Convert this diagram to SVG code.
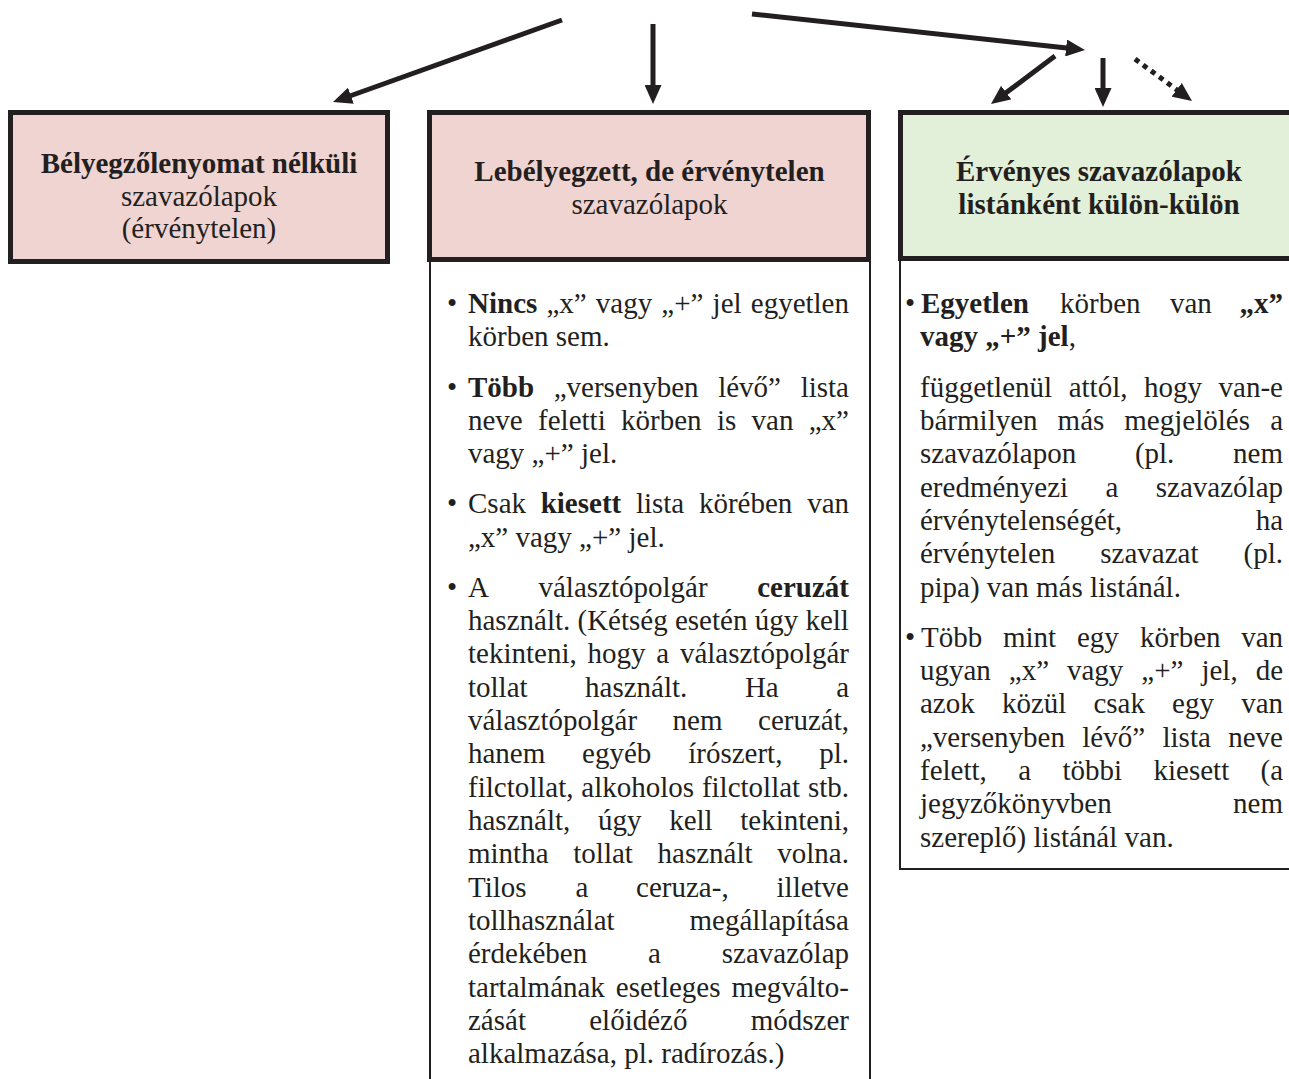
<svg xmlns="http://www.w3.org/2000/svg" width="1289" height="1079" viewBox="0 0 1289 1079">
<style>
.t{font-family:"Liberation Serif","Times New Roman",serif;font-size:29px;fill:#231f20}
.b{font-weight:bold}
.e{text-anchor:end}
.c{text-anchor:middle}
.hd{stroke:#231f20;stroke-width:5}
.bd{fill:#ffffff;stroke:#231f20;stroke-width:2}
.pink{fill:#f0d4d1}
.green{fill:#e2efd9}
.ar{stroke:#231f20;stroke-width:5;fill:none;marker-end:url(#ah)}
.dot{stroke-dasharray:5 5}
</style>
<defs>
<marker id="ah" markerUnits="userSpaceOnUse" markerWidth="19" markerHeight="17" viewBox="0 0 19 17" refX="10" refY="8.5" orient="auto">
<path d="M0,0 L19,8.5 L0,17 z" fill="#231f20"/>
</marker>
</defs>
<rect width="1289" height="1079" fill="#ffffff"/>
<g id="connectors">
<line class="ar" x1="562" y1="20" x2="341.5" y2="99"/>
<line class="ar" x1="653" y1="24" x2="653" y2="95"/>
<line class="ar" x1="752" y1="14" x2="1076" y2="49"/>
<line class="ar" x1="1055" y1="56" x2="998.2" y2="98.6"/>
<line class="ar" x1="1103" y1="58" x2="1103" y2="98"/>
<line class="ar dot" x1="1135" y1="59" x2="1184.75" y2="95.66"/>
</g>
<g id="node-belyegzo">
<rect class="hd pink" x="10.5" y="112.5" width="377" height="149"/>
<text class="t b c" x="199" y="173">Bélyegzőlenyomat nélküli</text>
<text class="t c" x="199" y="205.5">szavazólapok</text>
<text class="t c" x="199" y="238">(érvénytelen)</text>
</g>
<g id="node-ervenytelen">
<rect class="bd" x="430" y="260" width="440" height="900"/>
<rect class="hd pink" x="429.5" y="112.5" width="439" height="147"/>
<text class="t b c" x="649.5" y="181">Lebélyegzett, de érvénytelen</text>
<text class="t c" x="649.5" y="214">szavazólapok</text>
<text class="t" y="313"><tspan x="447">•</tspan><tspan x="468" class="b">Nincs</tspan><tspan x="546.4">„x”</tspan><tspan x="595.8">vagy</tspan><tspan x="661.3">„+”</tspan><tspan x="712.6">jel</tspan></text><text class="t e" x="849" y="313">egyetlen</text>
<text class="t" x="468" y="346.3">körben sem.</text>
<text class="t" y="396.7"><tspan x="447">•</tspan><tspan x="468" class="b">Több</tspan><tspan x="553.7">„versenyben</tspan><tspan x="718.2">lévő”</tspan></text><text class="t e" x="849" y="396.7">lista</text>
<text class="t" y="430"><tspan x="468">neve</tspan><tspan x="538.1">feletti</tspan><tspan x="621.1">körben</tspan><tspan x="716.9">is</tspan><tspan x="751.6">van</tspan></text><text class="t e" x="849" y="430">„x”</text>
<text class="t" x="468" y="463.3">vagy „+” jel.</text>
<text class="t" y="513.3"><tspan x="447">•</tspan><tspan x="468">Csak</tspan><tspan x="540.7" class="b">kiesett</tspan><tspan x="635.9">lista</tspan><tspan x="698.9">körében</tspan></text><text class="t e" x="849" y="513.3">van</text>
<text class="t" x="468" y="546.7">„x” vagy „+” jel.</text>
<text class="t" y="596.7"><tspan x="447">•</tspan><tspan x="468">A</tspan><tspan x="538.5">választópolgár</tspan></text><text class="t b e" x="849" y="596.7">ceruzát</text>
<text class="t" x="468" y="630">használt. (Kétség esetén úgy kell</text>
<text class="t" y="663.3"><tspan x="468">tekinteni,</tspan><tspan x="587.5">hogy</tspan><tspan x="656.25">a</tspan></text><text class="t e" x="849" y="663.3">választópolgár</text>
<text class="t" y="696.7"><tspan x="468">tollat</tspan><tspan x="585.1">használt.</tspan><tspan x="744.9">Ha</tspan></text><text class="t e" x="849" y="696.7">a</text>
<text class="t" y="730"><tspan x="468">választópolgár</tspan><tspan x="672.6">nem</tspan></text><text class="t e" x="849" y="730">ceruzát,</text>
<text class="t" y="763.3"><tspan x="468">hanem</tspan><tspan x="582.1">egyéb</tspan><tspan x="688.2">írószert,</tspan></text><text class="t e" x="849" y="763.3">pl.</text>
<text class="t" y="796.7"><tspan x="468">filctollat,</tspan><tspan x="581.3">alkoholos</tspan><tspan x="701.9">filctollat</tspan></text><text class="t e" x="849" y="796.7">stb.</text>
<text class="t" y="830"><tspan x="468">használt,</tspan><tspan x="598">úgy</tspan><tspan x="669.2">kell</tspan></text><text class="t e" x="849" y="830">tekinteni,</text>
<text class="t" y="863.3"><tspan x="468">mintha</tspan><tspan x="573.3">tollat</tspan><tspan x="657.6">használt</tspan></text><text class="t e" x="849" y="863.3">volna.</text>
<text class="t" y="896.7"><tspan x="468">Tilos</tspan><tspan x="575.4">a</tspan><tspan x="636.1">ceruza-,</tspan></text><text class="t e" x="849" y="896.7">illetve</text>
<text class="t" x="468" y="930">tollhasználat</text><text class="t e" x="849" y="930">megállapítása</text>
<text class="t" y="963.3"><tspan x="468">érdekében</tspan><tspan x="648">a</tspan></text><text class="t e" x="849" y="963.3">szavazólap</text>
<text class="t" y="996.7"><tspan x="468">tartalmának</tspan><tspan x="615.8">esetleges</tspan></text><text class="t e" x="849" y="996.7">megválto-</text>
<text class="t" y="1030"><tspan x="468">zását</tspan><tspan x="589.25">előidéző</tspan></text><text class="t e" x="849" y="1030">módszer</text>
<text class="t" x="468" y="1063.3">alkalmazása, pl. radírozás.)</text>
</g>
<g id="node-ervenyes">
<rect class="bd" x="900" y="258" width="500" height="611"/>
<rect class="hd green" x="900.5" y="112.5" width="500" height="146"/>
<text class="t b c" x="1099" y="181">Érvényes szavazólapok</text>
<text class="t b c" x="1099" y="214">listánként külön-külön</text>
<text class="t" y="313"><tspan x="905">•</tspan><tspan x="921" class="b">Egyetlen</tspan><tspan x="1060">körben</tspan><tspan x="1170">van</tspan></text><text class="t b e" x="1283" y="313">„x”</text>
<text class="t" x="920" y="346.3"><tspan class="b">vagy „+” jel</tspan>,</text>
<text class="t" y="396.7"><tspan x="920">függetlenül</tspan><tspan x="1068.7">attól,</tspan><tspan x="1144">hogy</tspan></text><text class="t e" x="1283" y="396.7">van-e</text>
<text class="t" y="430"><tspan x="920">bármilyen</tspan><tspan x="1057.6">más</tspan><tspan x="1124.3">megjelölés</tspan></text><text class="t e" x="1283" y="430">a</text>
<text class="t" y="463.3"><tspan x="920">szavazólapon</tspan><tspan x="1134.9">(pl.</tspan></text><text class="t e" x="1283" y="463.3">nem</text>
<text class="t" y="496.7"><tspan x="920">eredményezi</tspan><tspan x="1105.5">a</tspan></text><text class="t e" x="1283" y="496.7">szavazólap</text>
<text class="t" x="920" y="530">érvénytelenségét,</text><text class="t e" x="1283" y="530">ha</text>
<text class="t" y="563.3"><tspan x="920">érvénytelen</tspan><tspan x="1100.3">szavazat</tspan></text><text class="t e" x="1283" y="563.3">(pl.</text>
<text class="t" x="920" y="596.7">pipa) van más listánál.</text>
<text class="t" y="646.7"><tspan x="905">•</tspan><tspan x="921">Több</tspan><tspan x="1003">mint</tspan><tspan x="1077">egy</tspan><tspan x="1140">körben</tspan></text><text class="t e" x="1283" y="646.7">van</text>
<text class="t" y="680"><tspan x="920">ugyan</tspan><tspan x="1008.8">„x”</tspan><tspan x="1067">vagy</tspan><tspan x="1141.3">„+”</tspan><tspan x="1201.4">jel,</tspan></text><text class="t e" x="1283" y="680">de</text>
<text class="t" y="713.3"><tspan x="920">azok</tspan><tspan x="1001.9">közül</tspan><tspan x="1093.4">csak</tspan><tspan x="1172.1">egy</tspan></text><text class="t e" x="1283" y="713.3">van</text>
<text class="t" y="746.7"><tspan x="920">„versenyben</tspan><tspan x="1082.3">lévő”</tspan><tspan x="1162.5">lista</tspan></text><text class="t e" x="1283" y="746.7">neve</text>
<text class="t" y="780"><tspan x="920">felett,</tspan><tspan x="1018.2">a</tspan><tspan x="1062.5">többi</tspan><tspan x="1153.5">kiesett</tspan></text><text class="t e" x="1283" y="780">(a</text>
<text class="t" x="920" y="813.3">jegyzőkönyvben</text><text class="t e" x="1283" y="813.3">nem</text>
<text class="t" x="920" y="846.7">szereplő) listánál van.</text>
</g>
</svg>
